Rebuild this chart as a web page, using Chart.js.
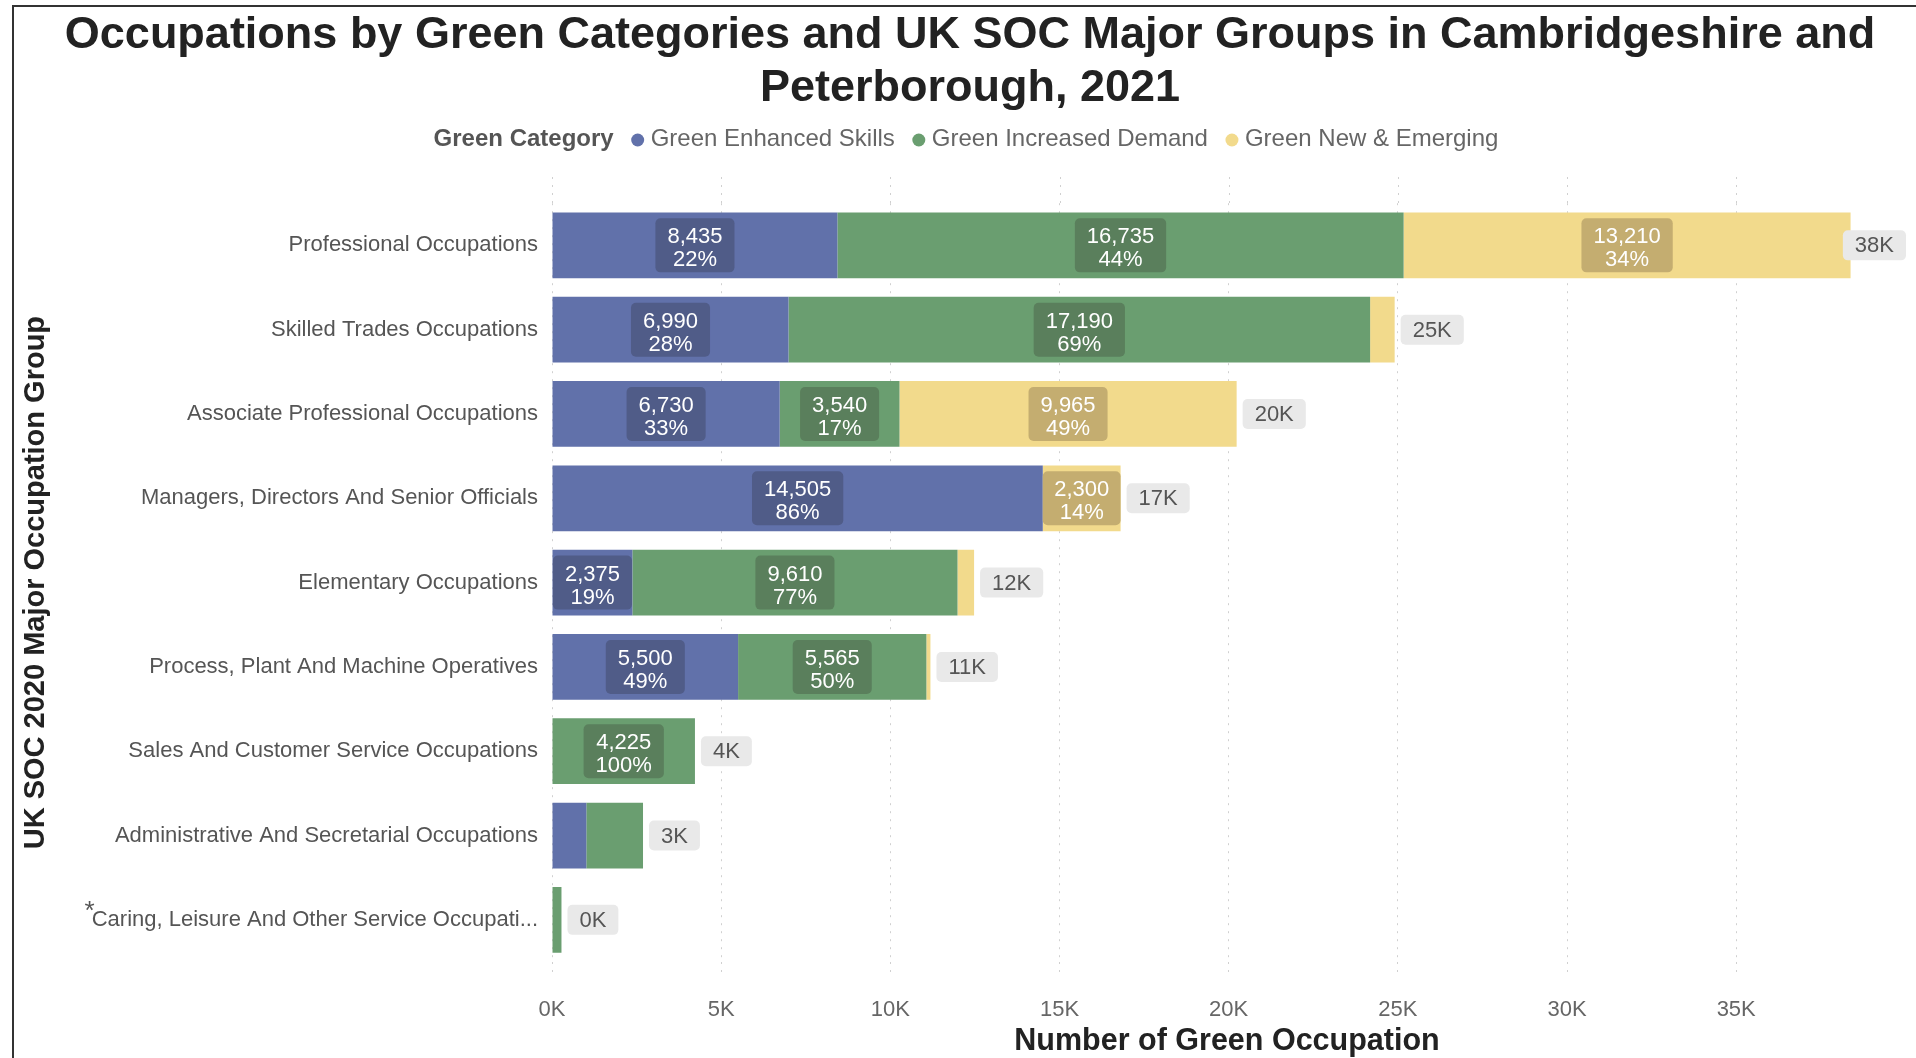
<!DOCTYPE html>
<html>
<head>
<meta charset="utf-8">
<title>Green occupations by SOC major group</title>
<script src="https://cdn.jsdelivr.net/npm/chart.js@4.4.1/dist/chart.umd.min.js"></script>
<style>
  html, body { margin: 0; padding: 0; background: #fff; }
  canvas { display: block; }
</style>
</head>
<body>
<canvas id="occChart" width="1916" height="1058"></canvas>
<script>
// SOC 2020 major groups, largest total first
const occupations = [
  "Professional Occupations",
  "Skilled Trades Occupations",
  "Associate Professional Occupations",
  "Managers, Directors And Senior Officials",
  "Elementary Occupations",
  "Process, Plant And Machine Operatives",
  "Sales And Customer Service Occupations",
  "Administrative And Secretarial Occupations",
  "Caring, Leisure And Other Service Occupations"
];

// number of green occupations per category
const enhancedSkills  = [8435, 6990, 6730, 14505, 2375, 5500, 0, 1015, 0];
const increasedDemand = [16735, 17190, 3540, 0, 9610, 5565, 4225, 1675, 280];
const newEmerging     = [13210, 725, 9965, 2300, 490, 120, 0, 0, 0];

const seriesNames = ["Green Enhanced Skills", "Green Increased Demand", "Green New & Emerging"];
const seriesColors = ["#6171aa", "#6a9e70", "#f2da8c"];
const labelBoxColors = ["#505c88", "#5a7f5c", "#c4ad70"];

const xTickValues = [0, 5000, 10000, 15000, 20000, 25000, 30000, 35000];
const xTickLabels = ["0K", "5K", "10K", "15K", "20K", "25K", "30K", "35K"];

const fontFamily = '"Liberation Sans", Arial, sans-serif';
const minLabelled = 2000; // smaller segments get no value box

const totals = occupations.map((_, i) => enhancedSkills[i] + increasedDemand[i] + newEmerging[i]);

// white background and the dark frame on top and left
const framePlugin = {
  id: "frame",
  beforeDraw(chart) {
    const ctx = chart.ctx;
    ctx.save();
    ctx.fillStyle = "#fff";
    ctx.fillRect(0, 0, chart.width, chart.height);
    ctx.strokeStyle = "#333";
    ctx.lineWidth = 2;
    ctx.beginPath();
    ctx.moveTo(12, 6);
    ctx.lineTo(chart.width, 6);
    ctx.moveTo(13, 5);
    ctx.lineTo(13, chart.height);
    ctx.stroke();
    ctx.restore();
  }
};

// dotted grid lines run a little above the plot area
const gridTopPlugin = {
  id: "gridTop",
  beforeDatasetsDraw(chart) {
    const ctx = chart.ctx;
    const xScale = chart.scales.x;
    const top = chart.chartArea.top;
    ctx.save();
    ctx.strokeStyle = "#d0d0d0";
    ctx.lineWidth = 1;
    ctx.setLineDash([2, 6]);
    xTickValues.forEach(v => {
      const x = Math.round(xScale.getPixelForValue(v)) + 0.5;
      ctx.beginPath();
      ctx.moveTo(x, 177);
      ctx.lineTo(x, top);
      ctx.stroke();
    });
    ctx.restore();
  }
};

// legend on one line with a bold heading
const legendPlugin = {
  id: "inlineLegend",
  afterDraw(chart) {
    const ctx = chart.ctx;
    const y = 139;
    const head = "Green Category";
    ctx.save();
    ctx.textBaseline = "middle";
    ctx.textAlign = "left";
    ctx.font = "bold 24px " + fontFamily;
    const headW = ctx.measureText(head).width;
    ctx.font = "24px " + fontFamily;
    const widths = seriesNames.map(n => ctx.measureText(n).width);
    let total = headW;
    widths.forEach(w => { total += 18 + 12 + 7 + w; });
    let x = 966 - total / 2;
    ctx.fillStyle = "#555";
    ctx.font = "bold 24px " + fontFamily;
    ctx.fillText(head, x, y);
    x += headW;
    ctx.font = "24px " + fontFamily;
    seriesNames.forEach((n, i) => {
      x += 18;
      ctx.fillStyle = seriesColors[i];
      ctx.beginPath();
      ctx.arc(x + 6, y + 1, 6.5, 0, Math.PI * 2);
      ctx.fill();
      x += 12 + 7;
      ctx.fillStyle = "#666";
      ctx.fillText(n, x, y);
      x += widths[i];
    });
    ctx.restore();
  }
};

// value + share boxes inside segments, total boxes at bar ends
const barLabelPlugin = {
  id: "barLabels",
  afterDatasetsDraw(chart) {
    const ctx = chart.ctx;
    ctx.save();
    ctx.font = "22px " + fontFamily;
    ctx.textAlign = "center";
    ctx.textBaseline = "middle";
    chart.data.datasets.forEach((ds, di) => {
      chart.getDatasetMeta(di).data.forEach((bar, i) => {
        const v = ds.data[i];
        if (v < minLabelled) return;
        const lines = [v.toLocaleString("en-US"), Math.round(v / totals[i] * 100) + "%"];
        const segW = Math.abs(bar.x - bar.base);
        const tw = Math.max(...lines.map(l => ctx.measureText(l).width));
        const w = Math.min(tw + 24, segW);
        const cx = (bar.x + bar.base) / 2;
        ctx.fillStyle = labelBoxColors[di];
        ctx.beginPath();
        ctx.roundRect(cx - w / 2, bar.y - 27, w, 54, 5);
        ctx.fill();
        ctx.fillStyle = "#fff";
        ctx.fillText(lines[0], cx, bar.y - 8);
        ctx.fillText(lines[1], cx, bar.y + 15);
      });
    });

    const xScale = chart.scales.x;
    const yScale = chart.scales.y;
    totals.forEach((t, i) => {
      const txt = Math.round(t / 1000) + "K";
      const w = ctx.measureText(txt).width + 24;
      let left = xScale.getPixelForValue(t) + 6;
      if (left + w > chart.width - 10) left = chart.width - 10 - w;
      const cy = yScale.getPixelForValue(i);
      ctx.fillStyle = "#e9e9e9";
      ctx.beginPath();
      ctx.roundRect(left, cy - 15, w, 30, 5);
      ctx.fill();
      ctx.fillStyle = "#555";
      ctx.fillText(txt, left + w / 2, cy + 1);
    });
    ctx.restore();
  }
};

// raised asterisk in front of the shortened last label
const asteriskPlugin = {
  id: "asterisk",
  afterDraw(chart) {
    const ctx = chart.ctx;
    const yScale = chart.scales.y;
    const last = occupations.length - 1;
    ctx.save();
    ctx.font = "22px " + fontFamily;
    const labelW = ctx.measureText(shortLabel(occupations[last])).width;
    const left = yScale.right - 14 - labelW;
    ctx.font = "26px " + fontFamily;
    ctx.fillStyle = "#555";
    ctx.textAlign = "center";
    ctx.textBaseline = "alphabetic";
    ctx.fillText("*", left - 2, yScale.getPixelForValue(last) - 1);
    ctx.restore();
  }
};

function shortLabel(s) {
  return s.length > 42 ? s.slice(0, 42) + "..." : s;
}

const ctx = document.getElementById("occChart");

new Chart(ctx, {
  type: "bar",
  data: {
    labels: occupations,
    datasets: [
      { label: seriesNames[0], data: enhancedSkills, backgroundColor: seriesColors[0] },
      { label: seriesNames[1], data: increasedDemand, backgroundColor: seriesColors[1] },
      { label: seriesNames[2], data: newEmerging, backgroundColor: seriesColors[2] }
    ]
  },
  options: {
    indexAxis: "y",
    responsive: false,
    animation: false,
    devicePixelRatio: 1,
    categoryPercentage: 1,
    barPercentage: 0.78,
    layout: { padding: { left: 38, right: 14, top: 0, bottom: 0 } },
    plugins: {
      legend: { display: false },
      tooltip: { enabled: false },
      title: {
        display: true,
        text: [
          "Occupations by Green Categories and UK SOC Major Groups in Cambridgeshire and",
          "Peterborough, 2021"
        ],
        color: "#222",
        font: { family: fontFamily, size: 45, weight: "bold", lineHeight: 1.18 },
        padding: { top: 9, bottom: 88 }
      }
    },
    scales: {
      x: {
        stacked: true,
        min: 0,
        max: 39900,
        afterBuildTicks(scale) {
          scale.ticks = xTickValues.map(v => ({ value: v }));
        },
        afterFit(scale) { scale.height = 96; },
        ticks: {
          color: "#666",
          font: { family: fontFamily, size: 22 },
          padding: 19,
          callback: (v) => xTickLabels[xTickValues.indexOf(v)]
        },
        grid: {
          color: "#d0d0d0",
          lineWidth: 1,
          tickLength: 16,
          tickColor: "#d0d0d0",
          tickBorderDash: [2, 6]
        },
        border: { display: false, dash: [2, 6] },
        title: {
          display: true,
          text: "Number of Green Occupation",
          color: "#222",
          font: { family: fontFamily, size: 30.5, weight: "bold", lineHeight: 1.1 },
          padding: { top: 0, bottom: 0 }
        }
      },
      y: {
        stacked: true,
        afterFit(scale) { scale.width = 514; },
        ticks: {
          color: "#555",
          font: { family: fontFamily, size: 22 },
          padding: 14,
          callback: (v, i) => shortLabel(occupations[i])
        },
        grid: { display: false, drawTicks: false },
        border: { display: false },
        title: {
          display: true,
          text: "UK SOC 2020 Major Occupation Group",
          color: "#222",
          font: { family: fontFamily, size: 29, weight: "bold", lineHeight: 1.2 },
          padding: { top: -19, bottom: 0 }
        }
      }
    }
  },
  plugins: [framePlugin, gridTopPlugin, legendPlugin, barLabelPlugin, asteriskPlugin]
});
</script>
</body>
</html>
